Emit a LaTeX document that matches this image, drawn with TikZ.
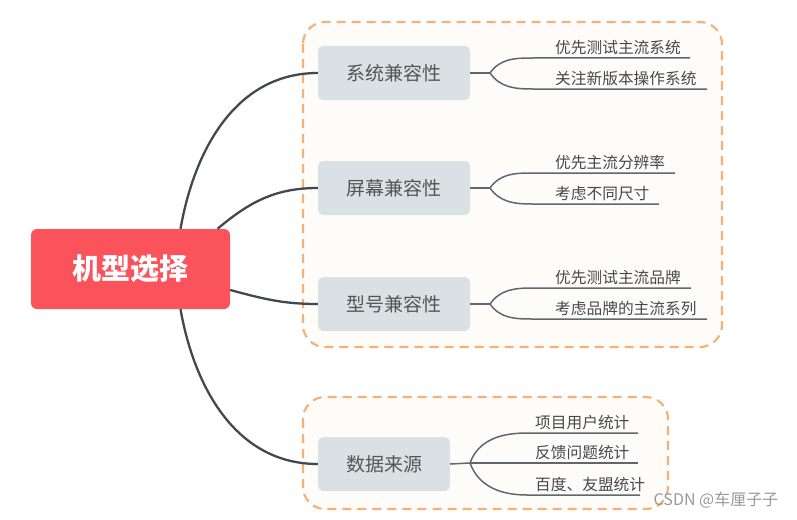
\documentclass[tikz,border=0pt]{standalone}
\usepackage{fontspec}
\setmainfont{Noto Sans CJK SC}
\definecolor{rootred}{RGB}{250,83,92}
\definecolor{topicgray}{RGB}{218,225,228}
\definecolor{topictext}{RGB}{85,85,85}
\definecolor{framebrown}{RGB}{242,178,122}
\definecolor{framefill}{RGB}{253,252,248}
\definecolor{mainline}{RGB}{66,72,80}
\definecolor{subline}{RGB}{95,103,112}
\definecolor{leaftext}{RGB}{72,72,72}
\tikzset{
  rootnode/.style={fill=rootred,rounded corners=6pt,minimum width=199pt,minimum height=80pt,
    text=white,font=\fontsize{29pt}{29pt}\selectfont\bfseries},
  topic/.style={fill=topicgray,rounded corners=5pt,minimum width=152pt,minimum height=54pt,
    text=topictext,font=\fontsize{19pt}{19pt}\selectfont},
  leaf/.style={anchor=base west,inner sep=0pt,text=leaftext,font=\fontsize{15.7pt}{15.7pt}\selectfont},
  groupframe/.style={draw=framebrown,line width=2.2pt,dash pattern=on 9pt off 6pt,fill=framefill,rounded corners=22pt},
  branch/.style={draw=subline,line width=1.5pt}
}
\begin{document}
\begin{tikzpicture}[x=1pt,y=1pt]
      \useasboundingbox (0,0) rectangle (797,-519);
      \path[groupframe] (303,-22) rectangle (722,-347);
      \path[groupframe] (303,-397) rectangle (668,-509);

      \node[rootnode] (root) at (130.5,-269) {机型选择};
      \begin{scope}[every node/.style={topic}]
        \node (sys) at (394,-73) {系统兼容性};
        \node (scr) at (394,-188) {屏幕兼容性};
        \node (mod) at (394,-304) {型号兼容性};
        \node[minimum width=132pt] (data) at (384,-464) {数据来源};
      \end{scope}
      \begin{scope}[every node/.style={leaf}]
        \node (sys1) at (555,-53) {优先测试主流系统};
        \node (sys2) at (555,-84) {关注新版本操作系统};
        \node (scr1) at (555,-168) {优先主流分辨率};
        \node (scr2) at (555,-199) {考虑不同尺寸};
        \node (mod1) at (555,-283) {优先测试主流品牌};
        \node (mod2) at (555,-314) {考虑品牌的主流系列};
        \node (data1) at (535,-428) {项目用户统计};
        \node (data2) at (535,-458) {反馈问题统计};
        \node (data3) at (535,-490) {百度、友盟统计};
      \end{scope}
      \node[text=black!40,font=\fontsize{16pt}{16pt}\selectfont] (mark) at (716,-500) {CSDN @车厘子子};

      % forks and line ends
      \coordinate (sysfork) at (490,-73);
      \coordinate (scrfork) at (490,-188);
      \coordinate (modfork) at (490,-304);
      \coordinate (datafork) at (470,-463);
      \coordinate (sys1a) at (533,-58);  \coordinate (sys1b) at (690,-58);
      \coordinate (sys2a) at (533,-89);  \coordinate (sys2b) at (707,-89);
      \coordinate (scr1a) at (533,-173); \coordinate (scr1b) at (675,-173);
      \coordinate (scr2a) at (533,-204); \coordinate (scr2b) at (659,-204);
      \coordinate (mod1a) at (533,-288); \coordinate (mod1b) at (691,-288);
      \coordinate (mod2a) at (533,-319); \coordinate (mod2b) at (707,-319);
      \coordinate (data1a) at (527,-433); \coordinate (data1b) at (638,-433);
      \coordinate (data2b) at (638,-463);
      \coordinate (data3a) at (527,-495); \coordinate (data3b) at (640,-495);

      \begin{scope}[every edge/.style={draw=mainline,line width=2.3pt}]
        \path ([xshift=50pt]root.north) edge[out=80,in=180] (sys.west);
        \path ([xshift=87pt]root.north) edge[out=40,in=180] (scr.west);
        \path ([yshift=-21pt]root.east) edge[out=-15,in=180] (mod.west);
        \path ([xshift=50pt]root.south) edge[out=-80,in=180] (data.west);
      \end{scope}
      \begin{scope}[every edge/.style={branch}]
        \path (sys.east) edge (sysfork);
        \path (scr.east) edge (scrfork);
        \path (mod.east) edge (modfork);
        \path (data.east) edge (datafork);
      \end{scope}
      \draw[branch] (sysfork) to[out=55,in=180] (sys1a) -- (sys1b);
      \draw[branch] (sysfork) to[out=-55,in=180] (sys2a) -- (sys2b);
      \draw[branch] (scrfork) to[out=55,in=180] (scr1a) -- (scr1b);
      \draw[branch] (scrfork) to[out=-55,in=180] (scr2a) -- (scr2b);
      \draw[branch] (modfork) to[out=55,in=180] (mod1a) -- (mod1b);
      \draw[branch] (modfork) to[out=-55,in=180] (mod2a) -- (mod2b);
      \draw[branch] (datafork) to[out=70,in=180] (data1a) -- (data1b);
      \draw[branch] (datafork) -- (data2b);
      \draw[branch] (datafork) to[out=-70,in=180] (data3a) -- (data3b);
    \end{tikzpicture}
\end{document}
